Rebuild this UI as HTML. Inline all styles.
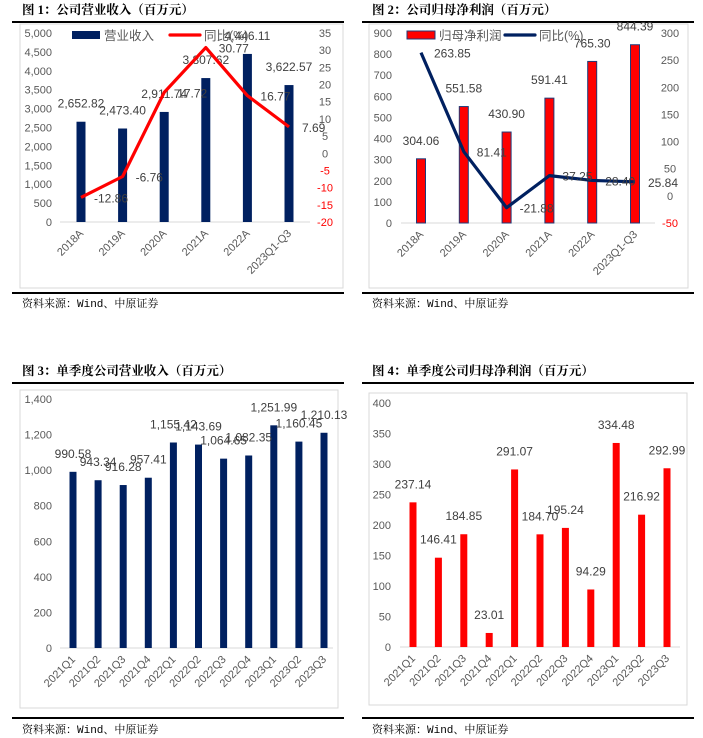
<!DOCTYPE html>
<html><head><meta charset="utf-8">
<style>
html,body{margin:0;padding:0;background:#fff;}
svg{display:block;}
text{font-family:"Liberation Sans","Noto Sans CJK SC",sans-serif;}
.t{font-family:"Liberation Serif","Noto Serif CJK SC",serif;font-weight:bold;font-size:12.5px;fill:#000;}
.src{font-family:"Liberation Mono","Noto Serif CJK SC",serif;font-size:11px;fill:#000;}
.ax{font-size:11px;fill:#595959;}
.lb{font-size:12px;fill:#404040;}
</style></head>
<body>
<svg id="fig" width="703" height="738" viewBox="0 0 703 738" xmlns="http://www.w3.org/2000/svg"></svg>
<script>
// Chart 1
const c1Categories = ["2018A","2019A","2020A","2021A","2022A","2023Q1-Q3"];
const c1Revenue = [2652.82,2473.40,2911.74,3807.62,4446.11,3622.57];
const c1Yoy = [-12.86,-6.76,17.72,30.77,16.77,7.69];
const c1LeftTicks = [0,500,1000,1500,2000,2500,3000,3500,4000,4500,5000];
const c1RightTicks = [-20,-15,-10,-5,0,5,10,15,20,25,30,35];
// Chart 2
const c2Categories = ["2018A","2019A","2020A","2021A","2022A","2023Q1-Q3"];
const c2Profit = [304.06,551.58,430.90,591.41,765.30,844.39];
const c2Yoy = [263.85,81.41,-21.88,37.25,28.40,25.84];
const c2LeftTicks = [0,100,200,300,400,500,600,700,800,900];
const c2RightTicks = [-50,0,50,100,150,200,250,300];
// Chart 3
const c3Categories = ["2021Q1","2021Q2","2021Q3","2021Q4","2022Q1","2022Q2","2022Q3","2022Q4","2023Q1","2023Q2","2023Q3"];
const c3Revenue = [990.58,943.34,916.28,957.41,1155.42,1143.69,1064.65,1082.35,1251.99,1160.45,1210.13];
const c3Ticks = [0,200,400,600,800,1000,1200,1400];
// Chart 4
const c4Categories = ["2021Q1","2021Q2","2021Q3","2021Q4","2022Q1","2022Q2","2022Q3","2022Q4","2023Q1","2023Q2","2023Q3"];
const c4Profit = [237.14,146.41,184.85,23.01,291.07,184.70,195.24,94.29,334.48,216.92,292.99];
const c4Ticks = [0,50,100,150,200,250,300,350,400];

const NS="http://www.w3.org/2000/svg";
const svg=document.getElementById('fig');
function mk(tag,attrs,parent,txt){const e=document.createElementNS(NS,tag);for(const k in attrs)e.setAttribute(k,attrs[k]);if(txt!==undefined)e.textContent=txt;(parent||svg).appendChild(e);return e;}
function fmt(v,d){return v.toLocaleString('en-US',{minimumFractionDigits:d,maximumFractionDigits:d});}
function scale(d0,d1,r0,r1){return v=>r0+(v-d0)*(r1-r0)/(d1-d0);}

function frame(g,x0,x1,ruleTop,boxX0,boxY0,boxX1,boxY1,ruleBot,title,srcY){
  const t=mk('text',{x:x0+10,y:ruleTop-8,class:'t'},g,title);
  
  
  const r=mk('line',{x1:x0,x2:x1,y1:ruleTop,y2:ruleTop,stroke:'#000','stroke-width':2},g);
  
  
  const b=mk('rect',{x:boxX0,y:boxY0,width:boxX1-boxX0,height:boxY1-boxY0,fill:'#fff',stroke:'#d9d9d9','stroke-width':1},g);
  
  
  const r2=mk('line',{x1:x0,x2:x1,y1:ruleBot,y2:ruleBot,stroke:'#000','stroke-width':2},g);
  
  
  const s=mk('text',{x:x0+10,y:srcY,class:'src'},g,'资料来源：Wind、中原证券');
  
  
}

function chart(o){
  const g=mk('g',{});
  
  
  frame(g,o.fx0,o.fx1,o.ruleTop,o.bx0,o.by0,o.bx1,o.by1,o.ruleBot,o.title,o.srcY);
  const y=scale(o.lt[0],o.lt[o.lt.length-1],o.zeroY,o.topY);
  const n=o.cats.length;
  const x=i=>o.c0+i*(o.cN-o.c0)/(n-1);
  o.lt.forEach(v=>{const e=mk('text',{x:o.lx,y:y(v)+4,'text-anchor':'end',class:'ax'},g,fmt(v,0));
    
    });
  const axl=mk('line',{x1:o.ax0,x2:o.ax1,y1:o.zeroY,y2:o.zeroY,stroke:'#d9d9d9','stroke-width':1},g);
  
  
  o.vals.forEach((v,i)=>{
    const r=mk('rect',{x:x(i)-o.bw/2,y:y(v),width:o.bw,height:o.zeroY-y(v),fill:o.barFill,stroke:o.barStroke||'none','stroke-width':1},g);
    
    
  });
  o.cats.forEach((c,i)=>{
    const tx=x(i)+3,ty=o.zeroY+12;
    const e=mk('text',{x:tx,y:ty,'text-anchor':'end',class:'ax',transform:`rotate(-45 ${tx} ${ty})`},g,c);
    
    
  });
  let yr=null;
  if(o.yoy){
    yr=scale(o.rt[0],o.rt[o.rt.length-1],o.zeroY,o.topY);
    o.rt.forEach(v=>{const e=mk('text',{x:o.rx,y:yr(v)+4,'text-anchor':'middle',class:'ax',style:v<0?'fill:#ff0000':''},g,String(v));
      
      });
  }
  o.vals.forEach((v,i)=>{
    const e=mk('text',{x:x(i),y:y(v)-(o.lblUp||14),'text-anchor':'middle',class:'lb'},g,fmt(v,2));
    
    
  });
  if(o.yoy){
    const pts=o.yoy.map((v,i)=>x(i)+','+yr(v)).join(' ');
    const l=mk('polyline',{points:pts,fill:'none',stroke:o.lineColor,'stroke-width':3.2,'stroke-linejoin':'round'},g);
    
    
    o.yoy.forEach((v,i)=>{
      const e=mk('text',{x:x(i)+13,y:yr(v)+5,class:'lb'},g,fmt(v,2));
      
      
    });
    const lg=mk('g',{},g);
    
    
    const lr=mk('rect',{x:o.legX,y:o.topY-2,width:28,height:8,fill:o.barFill,stroke:o.barStroke||'none'},lg);
    
    
    const lt=mk('text',{x:o.legX+32,y:o.topY+7,style:'font-size:12.5px;fill:#595959'},lg,o.barName);
    
    
    const ll=mk('line',{x1:o.legX+98,x2:o.legX+128,y1:o.topY+2,y2:o.topY+2,stroke:o.lineColor,'stroke-width':3.2,'stroke-linecap':'round'},lg);
    
    
    const lt2=mk('text',{x:o.legX+132,y:o.topY+7,style:'font-size:12.5px;fill:#595959'},lg,'同比(%)');
    
    
  }
}

chart({name:'chart-1-revenue',title:'图 1：公司营业收入（百万元）',fx0:12,fx1:344,ruleTop:22,bx0:20,by0:24,bx1:343,by1:288,ruleBot:293,srcY:307,
  cats:c1Categories,vals:c1Revenue,lt:c1LeftTicks,zeroY:222,topY:33,lx:52,ax0:60,ax1:310,c0:81,cN:289,bw:9,
  barFill:'#002060',yoy:c1Yoy,rt:c1RightTicks,rx:325,lineColor:'#ff0000',legX:72,barName:'营业收入'});
chart({name:'chart-2-net-profit',title:'图 2：公司归母净利润（百万元）',fx0:362,fx1:694,ruleTop:22,bx0:369,by0:24,bx1:688,by1:288,ruleBot:293,srcY:307,
  cats:c2Categories,vals:c2Profit,lt:c2LeftTicks,zeroY:223,topY:33,lx:392,ax0:401,ax1:655,c0:421,cN:635,bw:9,
  barFill:'#ff0000',barStroke:'#1f3a78',yoy:c2Yoy,rt:c2RightTicks,rx:670,lineColor:'#002060',legX:407,barName:'归母净利润'});
chart({name:'chart-3-quarterly-revenue',title:'图 3：单季度公司营业收入（百万元）',fx0:12,fx1:344,ruleTop:383,bx0:20,by0:390,bx1:338,by1:708,ruleBot:718,srcY:733,
  cats:c3Categories,vals:c3Revenue,lt:c3Ticks,zeroY:648,topY:399,lx:52,ax0:60,ax1:333,c0:73,cN:324,bw:7,barFill:'#002060'});
chart({name:'chart-4-quarterly-profit',title:'图 4：单季度公司归母净利润（百万元）',fx0:362,fx1:694,ruleTop:383,bx0:369,by0:393,bx1:687,by1:705,ruleBot:718,srcY:733,
  cats:c4Categories,vals:c4Profit,lt:c4Ticks,zeroY:647,topY:403,lx:391,ax0:400,ax1:680,c0:413,cN:667,bw:7,barFill:'#ff0000'});
</script>
</body></html>
